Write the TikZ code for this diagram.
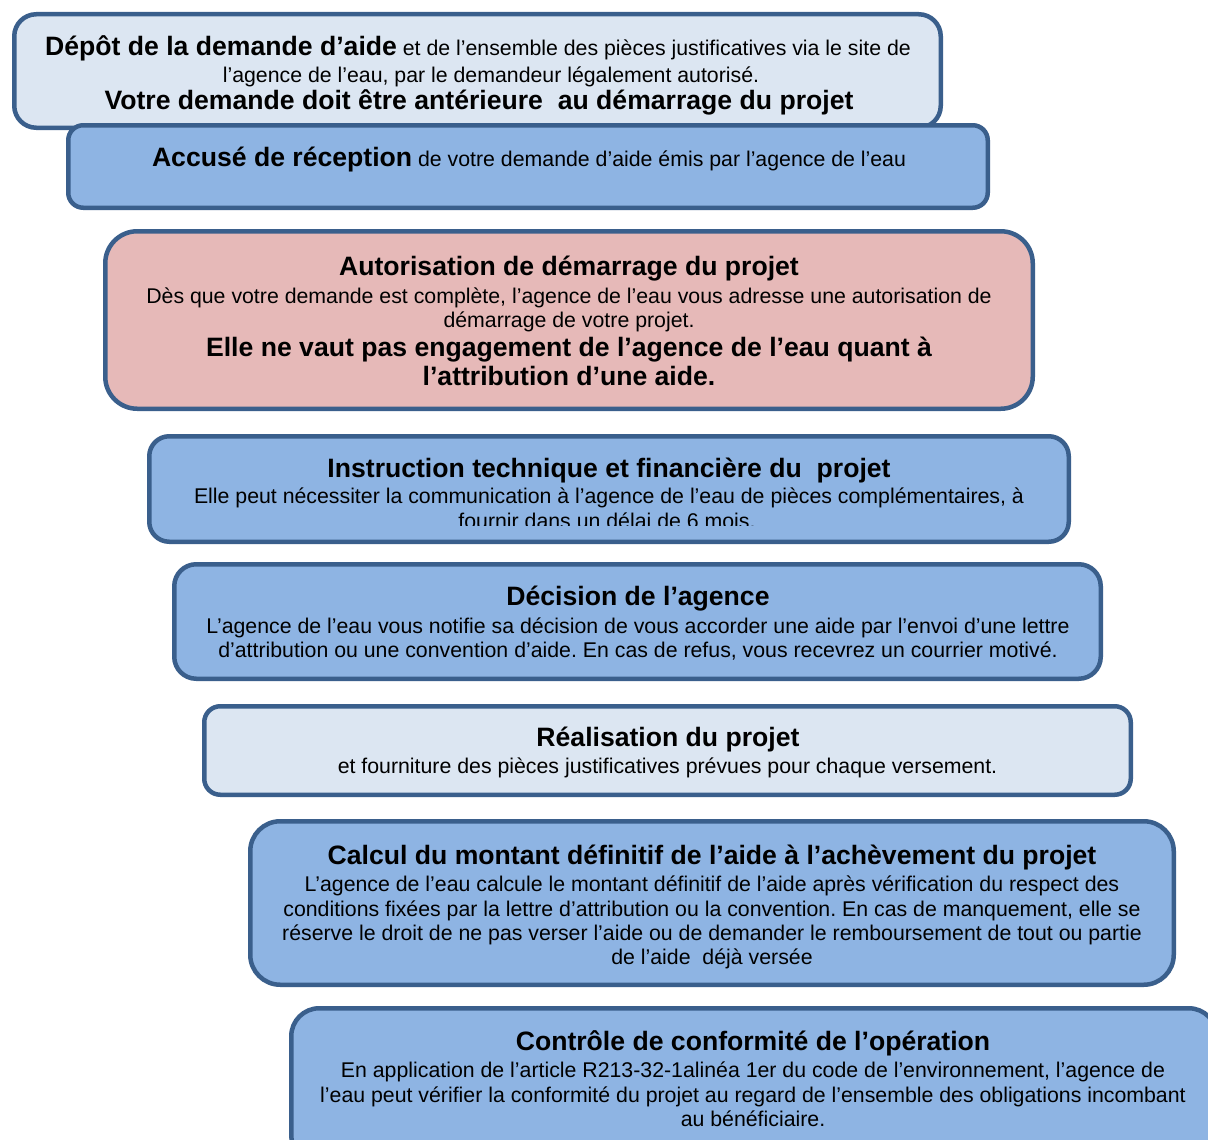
\documentclass[tikz,border=0pt]{standalone}
\usepackage{fontspec}
\setmainfont{Liberation Sans}
\definecolor{bordc}{HTML}{3A5F8C}
\definecolor{lightf}{HTML}{DCE6F2}
\definecolor{midf}{HTML}{8EB4E3}
\definecolor{pinkf}{HTML}{E6B9B8}
\newcommand{\bigb}{\fontsize{26.6}{30}\selectfont\bfseries}
\frenchspacing
\begin{document}
\begin{tikzpicture}[x=1pt,y=-1pt,
  stage/.style={draw=bordc, line width=4.5pt, rectangle, inner sep=0pt},
  ttl/.style={anchor=base, font=\fontsize{26.6}{30}\selectfont\bfseries, inner sep=0pt},
  txt/.style={anchor=base, font=\fontsize{21.3}{24}\selectfont, inner sep=0pt}]
\useasboundingbox (0,0) rectangle (1208,1140);
\clip (0,0) rectangle (1208,1140);
\fill[white] (0,0) rectangle (1208,1140);
% box 1
\node[stage, fill=lightf, rounded corners=22pt, minimum width=926.5pt, minimum height=113.5pt] (b1) at (477.5,71) {};
\begin{scope}
\clip (0,0) rectangle (1208,114);
\node[txt] (b1l1) at (478,56) {{\bigb Dépôt de la demande d’aide} et de l’ensemble des pièces justificatives via le site de};
\node[txt] (b1l2) at (491,82) {l’agence de l’eau, par le demandeur légalement autorisé.};
\node[ttl] (b1l3) at (479,110) {Votre demande doit être antérieure\ \ au démarrage du projet};
\end{scope}
% box 2
\node[stage, fill=midf, rounded corners=15pt, minimum width=919.5pt, minimum height=82.5pt] (b2) at (528,166.5) {};
\node[txt] (b2l1) at (529,166) {{\bigb Accusé de réception} de votre demande d’aide émis par l’agence de l’eau};
% box 3
\node[stage, fill=pinkf, rounded corners=32pt, minimum width=927.5pt, minimum height=177.5pt] (b3) at (569,320) {};
\node[ttl] (b3t) at (569,275) {Autorisation de démarrage du projet};
\node[txt] (b3l1) at (569,303) {Dès que votre demande est complète, l’agence de l’eau vous adresse une autorisation de};
\node[txt] (b3l2) at (569,327) {démarrage de votre projet.};
\node[ttl] (b3l3) at (569,356) {Elle ne vaut pas engagement de l’agence de l’eau quant à};
\node[ttl] (b3l4) at (569,385) {l’attribution d’une aide.};
% box 4
\node[stage, fill=midf, rounded corners=20pt, minimum width=919.5pt, minimum height=105.5pt] (b4) at (609,489) {};
\begin{scope}
\clip (0,0) rectangle (1208,525);
\node[ttl] (b4t) at (609,477) {Instruction technique et financière du\ \ projet};
\node[txt] (b4l1) at (609,503) {Elle peut nécessiter la communication à l’agence de l’eau de pièces complémentaires, à};
\node[txt] (b4l2) at (607,528) {fournir dans un délai de 6 mois.};
\end{scope}
% box 5
\node[stage, fill=midf, rounded corners=22pt, minimum width=926.5pt, minimum height=114.5pt] (b5) at (637.5,621.5) {};
\node[ttl] (b5t) at (638,605) {Décision de l’agence};
\node[txt] (b5l1) at (638,633) {L’agence de l’eau vous notifie sa décision de vous accorder une aide par l’envoi d’une lettre};
\node[txt] (b5l2) at (638,657) {d’attribution ou une convention d’aide. En cas de refus, vous recevrez un courrier motivé.};
% box 6
\node[stage, fill=lightf, rounded corners=16pt, minimum width=926.5pt, minimum height=88.5pt] (b6) at (667.5,750.5) {};
\node[ttl] (b6t) at (668,746) {Réalisation du projet};
\node[txt] (b6l1) at (667.5,773) {et fourniture des pièces justificatives prévues pour chaque versement.};
% box 7
\node[stage, fill=midf, rounded corners=30pt, minimum width=923.5pt, minimum height=163.5pt] (b7) at (712,903) {};
\node[ttl] (b7t) at (712,864) {Calcul du montant définitif de l’aide à l’achèvement du projet};
\node[txt] (b7l1) at (712,891) {L’agence de l’eau calcule le montant définitif de l’aide après vérification du respect des};
\node[txt] (b7l2) at (712,916) {conditions fixées par la lettre d’attribution ou la convention. En cas de manquement, elle se};
\node[txt] (b7l3) at (712,940) {réserve le droit de ne pas verser l’aide ou de demander le remboursement de tout ou partie};
\node[txt] (b7l4) at (712,964) {de l’aide\ \ déjà versée};
% box 8
\node[stage, fill=midf, rounded corners=28pt, minimum width=925.5pt, minimum height=154.5pt] (b8) at (754,1085.5) {};
\node[ttl] (b8t) at (753,1050) {Contrôle de conformité de l’opération};
\node[txt] (b8l1) at (753,1077) {En application de l’article R213-32-1alinéa 1er du code de l’environnement, l’agence de};
\node[txt] (b8l2) at (753,1102) {l’eau peut vérifier la conformité du projet au regard de l’ensemble des obligations incombant};
\node[txt] (b8l3) at (753,1126) {au bénéficiaire.};
\end{tikzpicture}
\end{document}
